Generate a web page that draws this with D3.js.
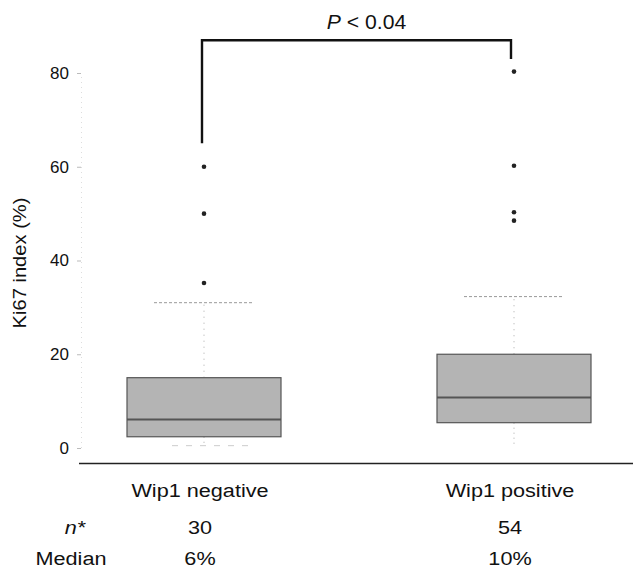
<!DOCTYPE html>
<html>
<head>
<meta charset="utf-8">
<script src="https://cdn.jsdelivr.net/npm/d3@7"></script>
<style>
  body { margin: 0; background: #fff; }
  svg { display: block; font-family: "Liberation Sans", Arial, sans-serif; }
</style>
</head>
<body>
<svg id="chart" width="633" height="570"></svg>
<script>
// values
const groups = ['Wip1 negative', 'Wip1 positive'];
const nCount = ['30', '54'];
const medianLabel = ['6%', '10%'];
const q1 = [2.4, 5.4];
const median = [6.1, 10.8];
const q3 = [15, 20];
const whiskLo = [0.5, 0.5];
const whiskHi = [31, 32.3];
const outliers = [[35.2, 50, 60], [48.5, 50.3, 60.2, 80.3]];
const yTicks = [0, 20, 40, 60, 80];
const bracket = { left: 65, right: 83, top: 87, label: '< 0.04' };

const $svg = d3.select('#chart');
const width = 633;

const x = d3.scalePoint().domain(groups).range([204, 514]);
const y = d3.scaleLinear().domain([0, 80]).range([448, 73]);
const boxHalf = 77;
const capHalf = 50;

// faint y axis
const yAxis = d3.axisLeft(y).tickValues(yTicks).tickSize(4).tickPadding(8);
const $ya = $svg.append('g').attr('transform', 'translate(81,0)').call(yAxis);
$ya.select('.domain').attr('stroke', '#ddd').attr('stroke-dasharray', '1,4');
$ya.selectAll('.tick line').attr('stroke', '#bbb');
$ya.selectAll('.tick text').attr('font-size', 17).attr('fill', '#111')
  .attr('font-family', '"Liberation Sans", Arial, sans-serif');

// y label
$svg.append('text')
  .attr('transform', 'translate(26,263) rotate(-90) scale(1.06,1)')
  .attr('text-anchor', 'middle')
  .attr('font-size', 19)
  .attr('fill', '#111')
  .text('Ki67 index (%)');

// x axis line
$svg.append('line')
  .attr('x1', 79).attr('x2', width)
  .attr('y1', 463.5).attr('y2', 463.5)
  .attr('stroke', '#222').attr('stroke-width', 1.6);

const data = groups.map((g, i) => ({
  g, i, q1: q1[i], med: median[i], q3: q3[i], lo: whiskLo[i], hi: whiskHi[i], out: outliers[i]
}));

const $box = $svg.selectAll('g.box').data(data).enter().append('g').attr('class', 'box');

// whiskers
$box.append('line')
  .attr('x1', d => x(d.g)).attr('x2', d => x(d.g))
  .attr('y1', d => y(d.q3)).attr('y2', d => y(d.hi))
  .attr('stroke', '#aaa').attr('stroke-dasharray', '1,5');
$box.append('line')
  .attr('x1', d => x(d.g)).attr('x2', d => x(d.g))
  .attr('y1', d => y(d.q1)).attr('y2', d => y(d.lo))
  .attr('stroke', '#aaa').attr('stroke-dasharray', '1,4');
$box.append('line')
  .attr('x1', d => x(d.g) - capHalf).attr('x2', d => x(d.g) + capHalf)
  .attr('y1', d => y(d.hi)).attr('y2', d => y(d.hi))
  .attr('stroke', '#999').attr('stroke-dasharray', '3,2');
$box.filter(d => d.i === 0).append('line')
  .attr('x1', d => x(d.g) - 32).attr('x2', d => x(d.g) + 48)
  .attr('y1', d => y(d.lo)).attr('y2', d => y(d.lo))
  .attr('stroke', '#ccc').attr('stroke-dasharray', '6,8');

// boxes
$box.append('rect')
  .attr('x', d => x(d.g) - boxHalf)
  .attr('width', boxHalf * 2)
  .attr('y', d => y(d.q3))
  .attr('height', d => y(d.q1) - y(d.q3))
  .attr('fill', '#b4b4b4')
  .attr('stroke', '#555').attr('stroke-width', 1.2);

$box.append('line')
  .attr('x1', d => x(d.g) - boxHalf).attr('x2', d => x(d.g) + boxHalf)
  .attr('y1', d => y(d.med)).attr('y2', d => y(d.med))
  .attr('stroke', '#555').attr('stroke-width', 2);

// outliers
$box.selectAll('circle').data(d => d.out.map(v => ({ g: d.g, v }))).enter()
  .append('circle')
  .attr('cx', d => x(d.g))
  .attr('cy', d => y(d.v))
  .attr('r', 2.3)
  .attr('fill', '#222');

// significance bracket
const bx0 = x(groups[0]) - 2;
const bx1 = x(groups[1]) - 3;
$svg.append('path')
  .attr('d', `M${bx0},${y(bracket.left)}V${y(bracket.top)}H${bx1}V${y(bracket.right)}`)
  .attr('fill', 'none').attr('stroke', '#111').attr('stroke-width', 2.4);

const $p = $svg.append('text')
  .attr('transform', `translate(${(bx0 + bx1) / 2 + 10},29) scale(1.06,1)`)
  .attr('text-anchor', 'middle')
  .attr('font-size', 20)
  .attr('fill', '#111');
$p.append('tspan').attr('font-style', 'italic').text('P');
$p.append('tspan').text(' ' + bracket.label);

// category labels and table below
const rows = [
  { vals: groups, y: 497 },
  { vals: nCount, y: 534 },
  { vals: medianLabel, y: 565 }
];

rows.forEach(r => {
  r.vals.forEach((v, i) => {
    $svg.append('text')
      .attr('transform', `translate(${x(groups[i]) - 4},${r.y}) scale(1.14,1)`)
      .attr('text-anchor', 'middle')
      .attr('font-size', 19)
      .attr('fill', '#111')
      .text(v);
  });
});

$svg.append('text')
  .attr('transform', 'translate(75,534) scale(1.14,1)')
  .attr('text-anchor', 'middle')
  .attr('font-size', 19)
  .attr('font-style', 'italic')
  .attr('fill', '#111')
  .text('n*');

$svg.append('text')
  .attr('transform', 'translate(71,565) scale(1.14,1)')
  .attr('text-anchor', 'middle')
  .attr('font-size', 19)
  .attr('fill', '#111')
  .text('Median');
</script>
</body>
</html>
